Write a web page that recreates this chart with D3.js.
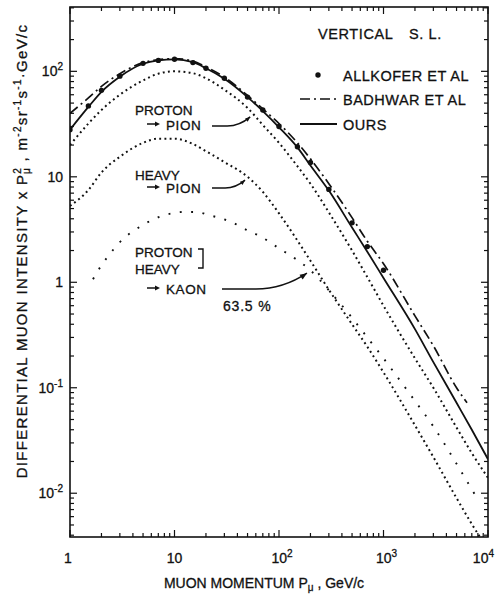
<!DOCTYPE html>
<html>
<head>
<meta charset="utf-8">
<script src="https://cdn.jsdelivr.net/npm/d3@7"></script>
<style>
  html, body { margin: 0; padding: 0; background: #fff; }
  svg { display: block; }
  text { font-family: "Liberation Sans", Arial, sans-serif; fill: #111; stroke: #111; stroke-width: 0.3; }
</style>
</head>
<body>
<svg id="chart" width="495" height="595"></svg>
<script>
// Vertical muon spectrum at sea level: p^2 x differential intensity (m^-2 sr^-1 s^-1 GeV/c)

const allkoferP = [1, 1.5, 2, 3, 5, 7, 10, 15, 20, 30, 50, 70, 100, 150, 200, 300, 500, 700, 1000];
const allkoferI = [28, 47, 66, 90, 119, 127, 130, 121, 107, 86, 57, 43, 30, 19.3, 13.7, 7.6, 3.66, 2.18, 1.3];

const badhwarP = [1, 1.5, 2, 3, 5, 7, 10, 15, 20, 30, 50, 70, 100, 150, 200, 300, 500, 700, 1000, 2000, 3000, 5000, 6300];
const badhwarI = [40, 56, 72, 95, 121, 129, 132, 125, 110, 88, 59, 44, 32, 21, 14.8, 8.6, 4.1, 2.45, 1.5, 0.48, 0.25, 0.1, 0.072];

const oursP = [1, 1.5, 2, 3, 5, 7, 10, 15, 20, 30, 50, 70, 100, 150, 200, 300, 500, 700, 1000, 2000, 3000, 5000, 7000, 10000];
const oursI = [28, 46, 64, 89, 118, 127, 130, 122, 107, 85, 57, 42, 29.5, 19, 12.8, 7.4, 3.3, 1.95, 1.1, 0.36, 0.175, 0.072, 0.04, 0.021];

const protonPionP = [1, 1.5, 2, 3, 5, 7, 10, 15, 20, 30, 50, 70, 100, 150, 200, 300, 500, 700, 1000, 2000, 3000, 5000, 7000, 10000];
const protonPionI = [20, 32, 43, 60, 82, 95, 100, 96, 86, 67, 45, 31, 21, 12.6, 8.6, 4.6, 2.0, 1.12, 0.6, 0.19, 0.1, 0.042, 0.024, 0.014];

const heavyPionP = [1, 1.5, 2, 3, 5, 7, 10, 15, 20, 30, 50, 70, 100, 200, 300, 500, 700, 1000, 2000, 3000, 5000, 7000, 8300];
const heavyPionI = [5.3, 7.5, 11, 15.5, 21, 23, 23, 20.5, 17.5, 13.8, 10, 7.2, 4.5, 1.6, 0.85, 0.4, 0.245, 0.14, 0.044, 0.022, 0.009, 0.0051, 0.0039];

const kaonP = [1.66, 2, 2.3, 3, 5, 7.6, 10, 12, 16, 22, 27, 35, 50, 63, 100, 150, 200, 300, 500, 700, 1000, 2000, 3000, 5000, 8000];
const kaonI = [1.07, 1.45, 1.75, 2.4, 3.5, 4.26, 4.55, 4.64, 4.64, 4.3, 4.07, 3.73, 3.1, 2.8, 2.1, 1.62, 1.3, 0.84, 0.46, 0.3, 0.19, 0.075, 0.043, 0.019, 0.0087];

const xMajorTicks = [1, 10, 100, 1000, 10000];
const xTickLabels = [["1", ""], ["10", ""], ["10", "2"], ["10", "3"], ["10", "4"]];
const yMajorTicks = [100, 10, 1, 0.1, 0.01];
const yTickLabels = [["10", "2"], ["10", ""], ["1", ""], ["10", "-1"], ["10", "-2"]];

const legendLabels = ["ALLKOFER ET AL", "BADHWAR ET AL", "OURS"];

// ---------------------------------------------------------------
const svg = d3.select("#chart");
const L = 70, R = 488, T = 7, B = 537;

const x = d3.scaleLog().domain([1, 1e4]).range([L, R]);
const y = d3.scaleLog().domain([Math.pow(10, -2.415), Math.pow(10, 2.61)]).range([B, T]);

svg.append("defs").append("clipPath").attr("id", "plotClip")
  .append("rect").attr("x", L).attr("y", T).attr("width", R - L).attr("height", B - T);

const zip = (ps, vs) => ps.map((p, i) => ({ p, v: vs[i] }));
const line = d3.line().x(d => x(d.p)).y(d => y(d.v)).curve(d3.curveMonotoneX);

const plot = svg.append("g").attr("clip-path", "url(#plotClip)");

function drawCurve(ps, vs, opts) {
  plot.append("path")
    .datum(zip(ps, vs))
    .attr("d", line)
    .attr("fill", "none")
    .attr("stroke", "#111")
    .attr("stroke-width", opts.width || 1.6)
    .attr("stroke-dasharray", opts.dash || null);
}

drawCurve(protonPionP, protonPionI, { dash: "1.9,3.3", width: 2 });
drawCurve(heavyPionP, heavyPionI, { dash: "1.9,3.3", width: 2 });
drawCurve(kaonP, kaonI, { dash: "1.9,9.5", width: 1.9 });
drawCurve(badhwarP, badhwarI, { dash: "10,4,2,4", width: 1.7 });
drawCurve(oursP, oursI, { width: 1.8 });

plot.selectAll("circle.allk")
  .data(zip(allkoferP, allkoferI))
  .join("circle")
  .attr("class", "allk")
  .attr("cx", d => x(d.p))
  .attr("cy", d => y(d.v))
  .attr("r", 2.7)
  .attr("fill", "#111");

// ---------------- frame and ticks ----------------
svg.append("rect")
  .attr("x", L).attr("y", T).attr("width", R - L).attr("height", B - T)
  .attr("fill", "none").attr("stroke", "#111").attr("stroke-width", 1.6);

const ticks = svg.append("g").attr("stroke", "#111").attr("stroke-width", 1.2);
const minorX = [];
for (let d = 1; d < 1e4; d *= 10) for (let k = 2; k <= 9; k++) minorX.push(d * k);
const minorY = [];
for (let d = 0.001; d < 1000; d *= 10) for (let k = 2; k <= 9; k++) {
  const v = d * k;
  if (y(v) > T && y(v) < B) minorY.push(v);
}

xMajorTicks.forEach(v => {
  ticks.append("line").attr("x1", x(v)).attr("x2", x(v)).attr("y1", B).attr("y2", B - 7);
  ticks.append("line").attr("x1", x(v)).attr("x2", x(v)).attr("y1", T).attr("y2", T + 7);
});
minorX.forEach(v => {
  ticks.append("line").attr("x1", x(v)).attr("x2", x(v)).attr("y1", B).attr("y2", B - 4);
  ticks.append("line").attr("x1", x(v)).attr("x2", x(v)).attr("y1", T).attr("y2", T + 4);
});
yMajorTicks.forEach(v => {
  ticks.append("line").attr("y1", y(v)).attr("y2", y(v)).attr("x1", L).attr("x2", L + 7);
  ticks.append("line").attr("y1", y(v)).attr("y2", y(v)).attr("x1", R).attr("x2", R - 7);
});
minorY.forEach(v => {
  ticks.append("line").attr("y1", y(v)).attr("y2", y(v)).attr("x1", L).attr("x2", L + 4);
  ticks.append("line").attr("y1", y(v)).attr("y2", y(v)).attr("x1", R).attr("x2", R - 4);
});

// ---------------- tick labels ----------------
function powerLabel(sel, base, exp) {
  sel.append("tspan").text(base);
  if (exp) sel.append("tspan").attr("dy", -6).attr("font-size", 10).text(exp);
}
xMajorTicks.forEach((v, i) => {
  const last = i === xMajorTicks.length - 1;
  const t = svg.append("text")
    .attr("x", last ? 494 : x(v) - (i === 0 ? 2 : 0) + (xTickLabels[i][1] ? 3 : 0))
    .attr("y", 563)
    .attr("font-size", 14)
    .attr("text-anchor", last ? "end" : "middle");
  powerLabel(t, xTickLabels[i][0], xTickLabels[i][1]);
});
yMajorTicks.forEach((v, i) => {
  const t = svg.append("text")
    .attr("x", 63)
    .attr("y", y(v) + 5)
    .attr("font-size", 14)
    .attr("text-anchor", "end");
  powerLabel(t, yTickLabels[i][0], yTickLabels[i][1]);
});

// ---------------- axis titles ----------------
const xt = svg.append("text").attr("x", 264).attr("y", 588)
  .attr("font-size", 14).attr("text-anchor", "middle");
xt.append("tspan").text("MUON  MOMENTUM  P");
xt.append("tspan").attr("dy", 3).attr("font-size", 10).text("μ");
xt.append("tspan").attr("dy", -3).text(" , GeV/c");

const yt = svg.append("text")
  .attr("transform", "translate(27,251) rotate(-90)")
  .attr("font-size", 15).attr("letter-spacing", 1.3).attr("text-anchor", "middle");
yt.append("tspan").text("DIFFERENTIAL  MUON  INTENSITY  x  P");
yt.append("tspan").attr("dy", -6).attr("font-size", 10).text("2");
yt.append("tspan").attr("dx", -7).attr("dy", 9).attr("font-size", 10).text("μ");
yt.append("tspan").attr("dy", -3).text(" ,  m");
yt.append("tspan").attr("dy", -6).attr("font-size", 10).text("-2");
yt.append("tspan").attr("dy", 6).text("sr");
yt.append("tspan").attr("dy", -6).attr("font-size", 10).text("-1");
yt.append("tspan").attr("dy", 6).text("s");
yt.append("tspan").attr("dy", -6).attr("font-size", 10).text("-1");
yt.append("tspan").attr("dy", 6).text("·GeV/c");

// ---------------- legend ----------------
const lg = svg.append("g");
lg.append("text").attr("x", 318).attr("y", 39).attr("font-size", 14.5).attr("letter-spacing", 0.6).text("VERTICAL");
lg.append("text").attr("x", 409).attr("y", 39).attr("font-size", 14.5).attr("letter-spacing", 0.6).text("S. L.");

const legendY = [75, 99, 124];
lg.append("circle").attr("cx", 318).attr("cy", legendY[0]).attr("r", 2.7).attr("fill", "#111");
lg.append("line").attr("x1", 300).attr("x2", 337).attr("y1", legendY[1]).attr("y2", legendY[1])
  .attr("stroke", "#111").attr("stroke-width", 1.7).attr("stroke-dasharray", "10,4,2,4");
lg.append("line").attr("x1", 300).attr("x2", 337).attr("y1", legendY[2]).attr("y2", legendY[2])
  .attr("stroke", "#111").attr("stroke-width", 1.8);
legendLabels.forEach((s, i) => {
  lg.append("text").attr("x", 343).attr("y", legendY[i] + 6).attr("font-size", 14.5)
    .attr("letter-spacing", 0.5).text(s);
});

// ---------------- component annotations ----------------
const ann = svg.append("g");
function arrowStub(x0, yy) {
  ann.append("line").attr("x1", x0).attr("x2", x0 + 10).attr("y1", yy).attr("y2", yy)
    .attr("stroke", "#111").attr("stroke-width", 1.5);
  ann.append("path").attr("d", `M${x0 + 13},${yy} l-5,-2.5 l0,5 z`).attr("fill", "#111");
}
function leader(x0, y0, p, v, headSize) {
  const x1 = x(p), y1 = y(v);
  const mx = x0 + (x1 - x0) * 0.4;
  const cx = x0 + (x1 - x0) * 0.72;
  ann.append("path")
    .attr("d", `M${x0},${y0} L${mx},${y0} Q${cx},${y0} ${x1},${y1}`)
    .attr("fill", "none").attr("stroke", "#111").attr("stroke-width", 1.5);
  const ang = Math.atan2(y1 - y0, x1 - cx) * 180 / Math.PI;
  ann.append("path").attr("d", `M0,0 l-${headSize},-${headSize * 0.4} l0,${headSize * 0.8} z`)
    .attr("transform", `translate(${x1},${y1}) rotate(${ang})`).attr("fill", "#111");
}

const annSize = 13.5;
ann.append("text").attr("x", 135).attr("y", 115).attr("font-size", annSize).text("PROTON");
arrowStub(147, 124);
ann.append("text").attr("x", 166).attr("y", 130).attr("font-size", annSize).attr("letter-spacing", 0.6).text("PION");
leader(212, 126, 53, 37, 5);

ann.append("text").attr("x", 135).attr("y", 180).attr("font-size", annSize).text("HEAVY");
arrowStub(147, 187);
ann.append("text").attr("x", 166).attr("y", 193).attr("font-size", annSize).attr("letter-spacing", 0.6).text("PION");
leader(212, 188, 47.3, 9.3, 5);

ann.append("text").attr("x", 135).attr("y", 257).attr("font-size", annSize).text("PROTON");
ann.append("text").attr("x", 135).attr("y", 274).attr("font-size", annSize).text("HEAVY");
ann.append("path").attr("d", "M198,249 L203,249 L203,268 L198,268")
  .attr("fill", "none").attr("stroke", "#111").attr("stroke-width", 1.4);
arrowStub(147, 288);
ann.append("text").attr("x", 166).attr("y", 294).attr("font-size", annSize).attr("letter-spacing", 0.6).text("KAON");
leader(222, 289, 185, 1.22, 7);
ann.append("text").attr("x", 223).attr("y", 311).attr("font-size", 14).attr("letter-spacing", 0.8).text("63.5 %");
</script>
</body>
</html>
